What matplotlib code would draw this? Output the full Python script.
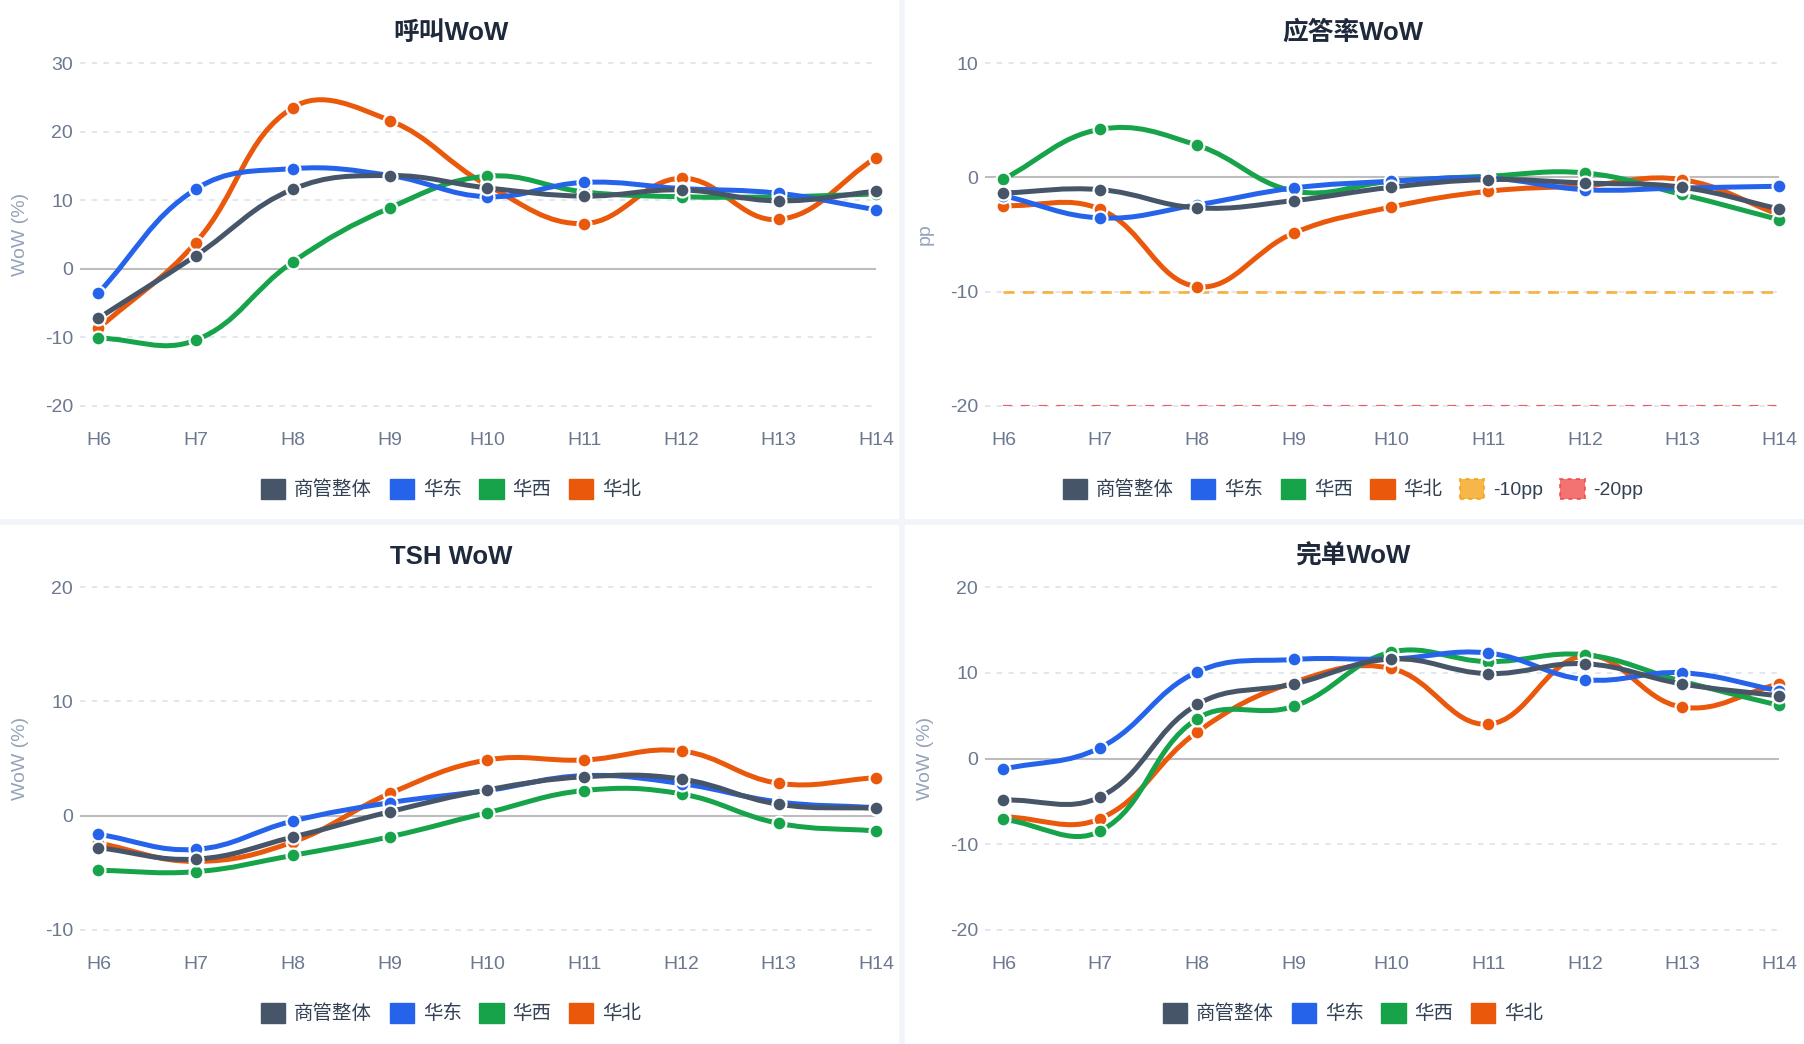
import numpy as np
import matplotlib
matplotlib.use('Agg')
import matplotlib.pyplot as plt
from matplotlib.path import Path
from matplotlib.patches import PathPatch, Patch

plt.rcParams['font.family'] = ['Liberation Sans', 'Noto Sans CJK SC', 'DejaVu Sans']

hours = ['H6', 'H7', 'H8', 'H9', 'H10', 'H11', 'H12', 'H13', 'H14']
region_names = ['商管整体', '华东', '华西', '华北']
region_colors = ['#475569', '#2563eb', '#16a34a', '#ea580c']

# 呼叫WoW (%)
call_total = [-7.2, 1.9, 11.6, 13.6, 11.8, 10.6, 11.5, 9.9, 11.3]
call_east = [-3.5, 11.6, 14.6, 13.6, 10.5, 12.6, 11.7, 11.0, 8.6]
call_west = [-10.1, -10.4, 1.0, 8.9, 13.5, 11.2, 10.5, 10.5, 10.9]
call_north = [-8.7, 3.8, 23.5, 21.6, 12.2, 6.6, 13.2, 7.2, 16.2]

# 应答率WoW (pp)
answer_total = [-1.37, -1.08, -2.67, -2.03, -0.87, -0.2, -0.5, -0.87, -2.76]
answer_east = [-1.6, -3.55, -2.4, -0.93, -0.35, -0.06, -1.08, -0.93, -0.78]
answer_west = [-0.15, 4.2, 2.8, -1.2, -0.35, 0.1, 0.38, -1.5, -3.7]
answer_north = [-2.47, -2.8, -9.56, -4.85, -2.6, -1.22, -0.73, -0.2, -3.25]
answer_limits = [-10, -20]
answer_limit_names = ['-10pp', '-20pp']
answer_limit_colors = ['#f59e0b', '#ef4444']

# TSH WoW (%)
tsh_total = [-2.8, -3.8, -1.87, 0.35, 2.25, 3.4, 3.2, 1.0, 0.64]
tsh_east = [-1.63, -2.95, -0.47, 1.14, 2.2, 3.5, 2.8, 1.2, 0.7]
tsh_west = [-4.78, -4.9, -3.47, -1.84, 0.26, 2.2, 1.9, -0.67, -1.34]
tsh_north = [-2.4, -4.0, -2.3, 1.95, 4.87, 4.87, 5.66, 2.83, 3.32]

# 完单WoW (%)
done_total = [-4.85, -4.46, 6.3, 8.7, 11.6, 9.9, 11.05, 8.7, 7.3]
done_east = [-1.24, 1.28, 10.1, 11.55, 11.6, 12.3, 9.2, 10.0, 7.9]
done_west = [-7.1, -8.45, 4.65, 6.1, 12.4, 11.3, 12.1, 9.0, 6.2]
done_north = [-6.8, -7.0, 3.1, 8.9, 10.5, 4.0, 12.0, 6.0, 8.7]

W, H = 1804, 1044
fig = plt.figure(figsize=(W / 100, H / 100), dpi=100)
fig.patch.set_facecolor('white')

# panel separators
fig.add_artist(plt.Line2D([0.5, 0.5], [0, 1], color='#f1f4f8', lw=4, transform=fig.transFigure))
fig.add_artist(plt.Line2D([0, 1], [0.5, 0.5], color='#f1f4f8', lw=4, transform=fig.transFigure))


def spline_path(ax, xs, ys, t=0.4):
    pts = ax.transData.transform(np.column_stack([xs, ys]))
    n = len(pts)
    cp_in, cp_out = [], []
    for i in range(n):
        cur = pts[i]
        prev = pts[i - 1] if i > 0 else cur
        nxt = pts[i + 1] if i < n - 1 else cur
        d01 = np.hypot(*(cur - prev))
        d12 = np.hypot(*(nxt - cur))
        tot = d01 + d12
        s01 = d01 / tot if tot > 0 else 0
        s12 = d12 / tot if tot > 0 else 0
        cp_in.append(cur - t * s01 * (nxt - prev))
        cp_out.append(cur + t * s12 * (nxt - prev))
    verts = [pts[0]]
    codes = [Path.MOVETO]
    for i in range(n - 1):
        verts += [cp_out[i], cp_in[i + 1], pts[i + 1]]
        codes += [Path.CURVE4] * 3
    verts = ax.transData.inverted().transform(np.array(verts))
    return Path(verts, codes)


def draw_panel(px_left, px_top, px_right, px_bottom, title, ylabel, ylim, yticks,
               series, limits=None):
    ax = fig.add_axes([px_left / W, 1 - px_bottom / H,
                       (px_right - px_left) / W, (px_bottom - px_top) / H])
    ax.set_xlim(-0.19, len(hours) - 1)
    ax.set_ylim(*ylim)
    for s in ax.spines.values():
        s.set_visible(False)
    ax.set_xticks(range(len(hours)))
    ax.set_xticklabels(hours)
    ax.set_yticks(yticks)
    ax.set_yticklabels([str(v) for v in yticks])
    ax.tick_params(axis='x', length=0, pad=19, labelsize=14, labelcolor='#6b7890')
    ax.tick_params(axis='y', length=0, pad=5, labelsize=14, labelcolor='#6b7890')
    for v in yticks:
        if v == 0:
            ax.axhline(0, color='#bdbdbd', lw=1.5, zorder=1)
        else:
            ax.axhline(v, color='#dfe4ee', lw=1.3, dashes=(3, 3.5), zorder=1, clip_on=False)

    if limits is not None:
        for val, col, dash, lw, a in zip(limits, answer_limit_colors, [(4, 3), (4, 4)],
                                         [2.0, 1.6], [0.75, 0.85]):
            ax.plot([0, len(hours) - 1], [val, val], color=col, alpha=a, lw=lw,
                    dashes=dash, zorder=2)

    x = np.arange(len(hours))
    # first dataset on top
    for k in reversed(range(len(series))):
        vals = series[k]
        path = spline_path(ax, x, vals)
        ax.add_patch(PathPatch(path, facecolor='none', edgecolor=region_colors[k], lw=3.6,
                               zorder=3 + 2 * (len(series) - k), clip_on=False,
                               capstyle='round', joinstyle='round'))
        ax.plot(x, vals, 'o', ms=10, mfc=region_colors[k], mec='white', mew=1.6,
                zorder=4 + 2 * (len(series) - k), clip_on=False)

    left_side = px_left < W / 2
    cx = 0.25 if left_side else 0.75
    ty = 1 - (px_top - 30) / H
    fig.text(cx, ty, title, ha='center', va='center', fontsize=18.5, fontweight='bold',
             color='#1e293b')
    ax.set_ylabel(ylabel, fontsize=14, color='#94a3b8')
    label_px = 29 if left_side else 934
    ax.yaxis.set_label_coords((label_px - px_left) / (px_right - px_left), 0.5)

    handles = [Patch(facecolor=c, edgecolor=c) for c in region_colors]
    labels = list(region_names)
    if limits is not None:
        for col, name in zip(answer_limit_colors, answer_limit_names):
            handles.append(Patch(facecolor=col, edgecolor=col, alpha=0.75, linestyle=(0, (2, 2)), lw=1.5))
            labels.append(name)
    ly = 1 - (px_bottom + 83) / H
    fig.legend(handles, labels, loc='center', bbox_to_anchor=(cx, ly), ncol=len(labels),
               frameon=False, fontsize=14, handlelength=1.25, handleheight=1.25,
               handletextpad=0.45, columnspacing=0.9, labelcolor='#334155')
    return ax


draw_panel(80, 63, 876, 406, '呼叫WoW', 'WoW (%)', (-20, 30), [-20, -10, 0, 10, 20, 30],
           [call_total, call_east, call_west, call_north])
draw_panel(985, 63, 1779, 406, '应答率WoW', 'pp', (-20, 10), [-20, -10, 0, 10],
           [answer_total, answer_east, answer_west, answer_north], limits=answer_limits)
draw_panel(80, 587, 876, 930, 'TSH WoW', 'WoW (%)', (-10, 20), [-10, 0, 10, 20],
           [tsh_total, tsh_east, tsh_west, tsh_north])
draw_panel(985, 587, 1779, 930, '完单WoW', 'WoW (%)', (-20, 20), [-20, -10, 0, 10, 20],
           [done_total, done_east, done_west, done_north])

fig.savefig('out.png', dpi=100, facecolor='white')
